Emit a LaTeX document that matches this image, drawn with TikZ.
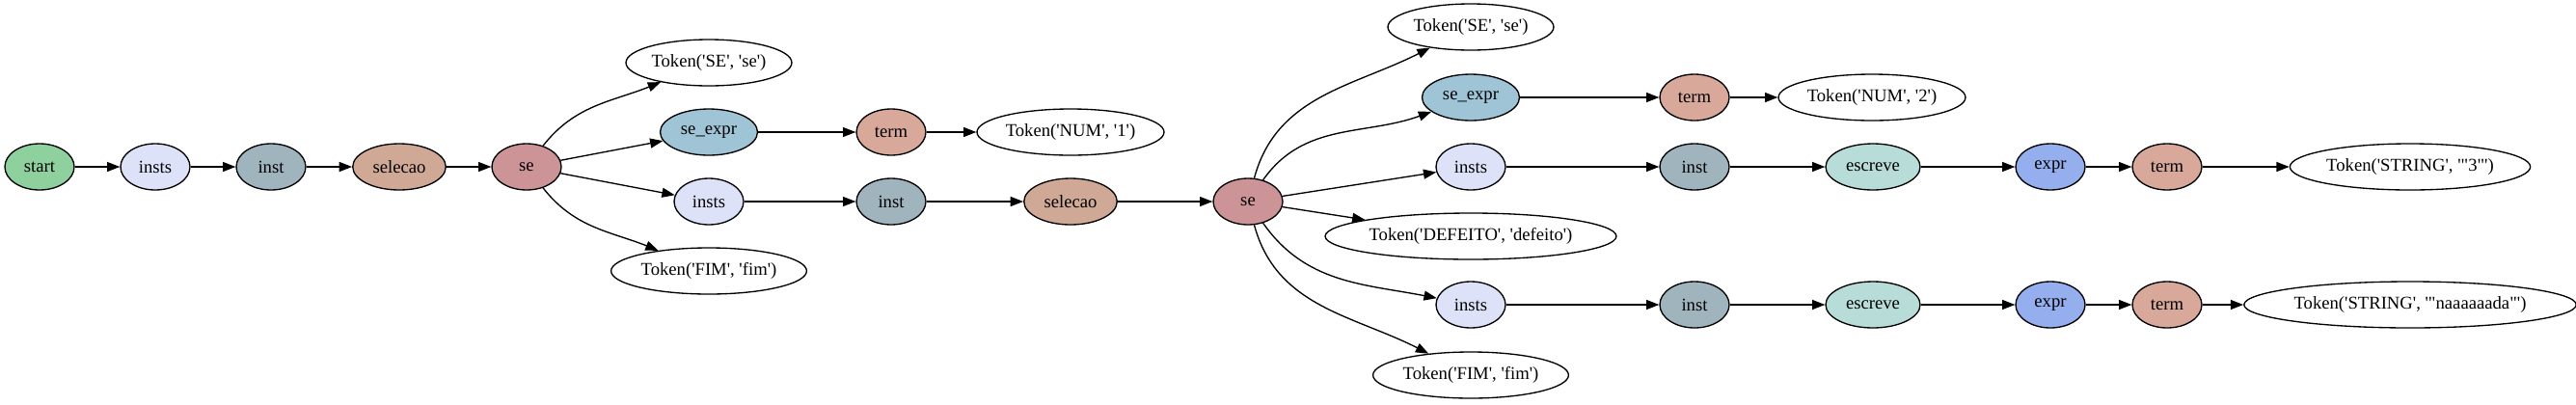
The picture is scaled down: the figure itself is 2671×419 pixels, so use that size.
\documentclass[tikz,border=0pt]{standalone}
\usepackage{fontspec}
\setmainfont{Liberation Serif}[Ligatures=TeXOff]
\usepackage{tikz}
\usetikzlibrary{shapes.geometric, arrows.meta}

\definecolor{cStart}{HTML}{8FD19E}
\definecolor{cInsts}{HTML}{DDE2F8}
\definecolor{cInst}{HTML}{A0B4BE}
\definecolor{cSelecao}{HTML}{CFA996}
\definecolor{cSe}{HTML}{CC9496}
\definecolor{cSeExpr}{HTML}{9EC4D6}
\definecolor{cTerm}{HTML}{D8A89B}
\definecolor{cEscreve}{HTML}{B8DDD9}
\definecolor{cExpr}{HTML}{94AEEE}

\begin{document}
\begin{tikzpicture}[
    x=0.75pt, y=-0.75pt,
    nt/.style={ellipse, draw, line width=1pt, minimum width=54pt, minimum height=36pt, inner xsep=5pt, font=\fontsize{14}{16}\selectfont},
    tok/.style={ellipse, draw, fill=white, line width=1pt, minimum height=36pt, inner xsep=1pt, font=\fontsize{14}{16}\selectfont},
    arrow/.style={-{Triangle[length=10pt,width=7.5pt]}, line width=1pt}
]
    \useasboundingbox (0,0) rectangle (2671,419);

    % main chain
    \node[nt, fill=cStart] (start) at (41,173) {start};
    \node[nt, fill=cInsts] (insA) at (161,173) {insts};
    \node[nt, fill=cInst] (instA) at (281,173) {inst};
    \node[nt, fill=cSelecao] (selA) at (414,173) {selecao};
    \node[nt, fill=cSe] (seA) at (546,173) {se};

    % first se
    \node[tok] (tseA) at (735,65) {Token('SE', 'se')};
    \node[nt, fill=cSeExpr] (sexA) at (735,137) {se\_expr};
    \node[nt, fill=cTerm] (termA) at (924,137) {term};
    \node[tok] (tnumA) at (1110,137) {Token('NUM', '1')};
    \node[nt, fill=cInsts] (insB) at (735,209) {insts};
    \node[nt, fill=cInst] (instB) at (924,209) {inst};
    \node[nt, fill=cSelecao] (selB) at (1110,209) {selecao};
    \node[nt, fill=cSe] (seB) at (1294,209) {se};
    \node[tok] (tfimA) at (735,281) {Token('FIM', 'fim')};

    % second se
    \node[tok] (tseB) at (1525,28) {Token('SE', 'se')};
    \node[nt, fill=cSeExpr] (sexB) at (1525,101) {se\_expr};
    \node[nt, fill=cTerm] (termB) at (1757,101) {term};
    \node[tok] (tnumB) at (1941,101) {Token('NUM', '2')};
    \node[nt, fill=cInsts] (insC) at (1525,173) {insts};
    \node[nt, fill=cInst] (instC) at (1757,173) {inst};
    \node[nt, fill=cEscreve] (escC) at (1942,173) {escreve};
    \node[nt, fill=cExpr] (exprC) at (2126,173) {expr};
    \node[nt, fill=cTerm] (termC) at (2247,173) {term};
    \node[tok] (tstrC) at (2499,173) {Token('STRING', '"3"')};
    \node[tok] (tdef) at (1525,245) {Token('DEFEITO', 'defeito')};
    \node[nt, fill=cInsts] (insD) at (1525,316) {insts};
    \node[nt, fill=cInst] (instD) at (1757,316) {inst};
    \node[nt, fill=cEscreve] (escD) at (1942,316) {escreve};
    \node[nt, fill=cExpr] (exprD) at (2126,316) {expr};
    \node[nt, fill=cTerm] (termD) at (2247,316) {term};
    \node[tok] (tstrD) at (2499,316) {Token('STRING', '"naaaaaada"')};
    \node[tok] (tfimB) at (1525,389) {Token('FIM', 'fim')};

    % edges
    \draw[arrow] (start) -- (insA);
    \draw[arrow] (insA) -- (instA);
    \draw[arrow] (instA) -- (selA);
    \draw[arrow] (selA) -- (seA);
    \draw[arrow] (seA) to[out=52, in=202] (tseA);
    \draw[arrow] (seA) -- (sexA);
    \draw[arrow] (seA) -- (insB);
    \draw[arrow] (seA) to[out=-52, in=158] (tfimA);
    \draw[arrow] (sexA) -- (termA);
    \draw[arrow] (termA) -- (tnumA);
    \draw[arrow] (insB) -- (instB);
    \draw[arrow] (instB) -- (selB);
    \draw[arrow] (selB) -- (seB);
    \draw[arrow] (seB) to[out=75, in=207] (tseB);
    \draw[arrow] (seB) to[out=55, in=200] (sexB);
    \draw[arrow] (seB) -- (insC);
    \draw[arrow] (seB) -- (tdef);
    \draw[arrow] (seB) to[out=-55, in=169] (insD);
    \draw[arrow] (seB) to[out=-75, in=153] (tfimB);
    \draw[arrow] (sexB) -- (termB);
    \draw[arrow] (termB) -- (tnumB);
    \draw[arrow] (insC) -- (instC);
    \draw[arrow] (instC) -- (escC);
    \draw[arrow] (escC) -- (exprC);
    \draw[arrow] (exprC) -- (termC);
    \draw[arrow] (termC) -- (tstrC);
    \draw[arrow] (insD) -- (instD);
    \draw[arrow] (instD) -- (escD);
    \draw[arrow] (escD) -- (exprD);
    \draw[arrow] (exprD) -- (termD);
    \draw[arrow] (termD) -- (tstrD);
\end{tikzpicture}
\end{document}
